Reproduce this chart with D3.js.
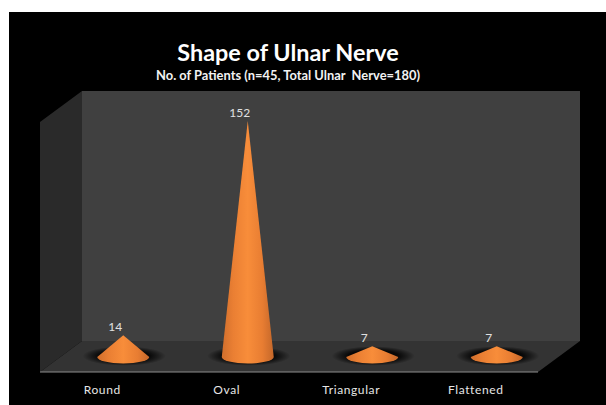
<!DOCTYPE html>
<html><head><meta charset="utf-8">
<script src="https://cdn.jsdelivr.net/npm/d3@7/dist/d3.min.js"></script>
<style>html,body{margin:0;padding:0;background:#fff}svg{display:block}text{font-family:Lato,"Open Sans",sans-serif}</style>
</head><body><svg id="c" width="606" height="405"></svg>
<script>
const categories = ["Round","Oval","Triangular","Flattened"];
const patients = [14,152,7,7];
const titleText = "Shape of Ulnar Nerve";
const subtitleText = "No. of Patients (n=45, Total Ulnar  Nerve=180)";

const svg = d3.select("#c");
const defs = svg.append("defs");
const wall = {l:82,r:580,t:91,b:341}, dx = 42, dy = 31;

const x = d3.scaleBand().domain(categories).range([61,559]).paddingInner(0).paddingOuter(0);
const y = d3.scaleLinear().domain([0,152]).range([357,121]);
const cx = d => x(d)+x.bandwidth()/2;
const rx = 26, ry = 6.5;

const g1 = defs.append("linearGradient").attr("id","cone");
[[0,"#d06e2c"],[0.22,"#ea7f33"],[0.5,"#f88d3a"],[0.78,"#e87d32"],[1,"#c4672a"]].forEach(s=>g1.append("stop").attr("offset",s[0]).attr("stop-color",s[1]));
const g2 = defs.append("radialGradient").attr("id","shadow");
[[0,"#000",0.95],[0.6,"#000",0.85],[0.8,"#000",0.45],[1,"#000",0]].forEach(s=>g2.append("stop").attr("offset",s[0]).attr("stop-color",s[1]).attr("stop-opacity",s[2]));

svg.append("rect").attr("x",9).attr("y",12).attr("width",597).attr("height",393).attr("fill","#000");

svg.append("rect").attr("x",wall.l).attr("y",wall.t).attr("width",wall.r-wall.l).attr("height",wall.b-wall.t).attr("fill","#404040");
svg.append("path").attr("d",d3.line()([[wall.l-dx,wall.t+dy],[wall.l,wall.t],[wall.l,wall.b],[wall.l-dx,wall.b+dy]])+"Z").attr("fill","#2a2a2a");
svg.append("path").attr("d",d3.line()([[wall.l,wall.b],[wall.r,wall.b],[wall.r-dx,wall.b+dy],[wall.l-dx,wall.b+dy]])+"Z").attr("fill","#333");
svg.append("line").attr("x1",wall.l-dx).attr("x2",wall.r-dx).attr("y1",wall.b+dy).attr("y2",wall.b+dy).attr("stroke","#8c8c8c").attr("stroke-width",1.2);

const rows = categories.map((c,i)=>({c,v:patients[i]}));
svg.selectAll(".shadow").data(rows).join("ellipse").attr("class","shadow")
  .attr("cx",d=>cx(d.c)+1).attr("cy",y(0)-1).attr("rx",rx*1.6).attr("ry",ry*1.5).attr("fill","url(#shadow)");
svg.selectAll(".cone").data(rows).join("path").attr("class","cone")
  .attr("d",d=>`M${cx(d.c)},${y(d.v)}L${cx(d.c)+rx},${y(0)}A${rx},${ry} 0 0 1 ${cx(d.c)-rx},${y(0)}Z`)
  .attr("fill","url(#cone)");

svg.selectAll(".val").data(rows).join("text").attr("class","val")
  .attr("x",d=>cx(d.c)-8).attr("y",d=>y(d.v)-4).attr("text-anchor","middle")
  .attr("font-size",12).attr("fill","#e0e0e0").text(d=>d.v);
svg.selectAll(".cat").data(categories).join("text").attr("class","cat")
  .attr("x",d=>cx(d)-21).attr("y",394).attr("text-anchor","middle")
  .attr("font-size",12).attr("letter-spacing",0.6).attr("fill","#e6e6e6").text(d=>d);

svg.append("text").attr("x",288).attr("y",61).attr("text-anchor","middle").attr("font-size",23.4).attr("font-weight",700).attr("fill","#fff").text(titleText);
svg.append("text").attr("x",288).attr("y",80).attr("text-anchor","middle").attr("font-size",12.9).attr("font-weight",700).attr("fill","#f2f2f2").style("white-space","pre").text(subtitleText);
</script></body></html>
